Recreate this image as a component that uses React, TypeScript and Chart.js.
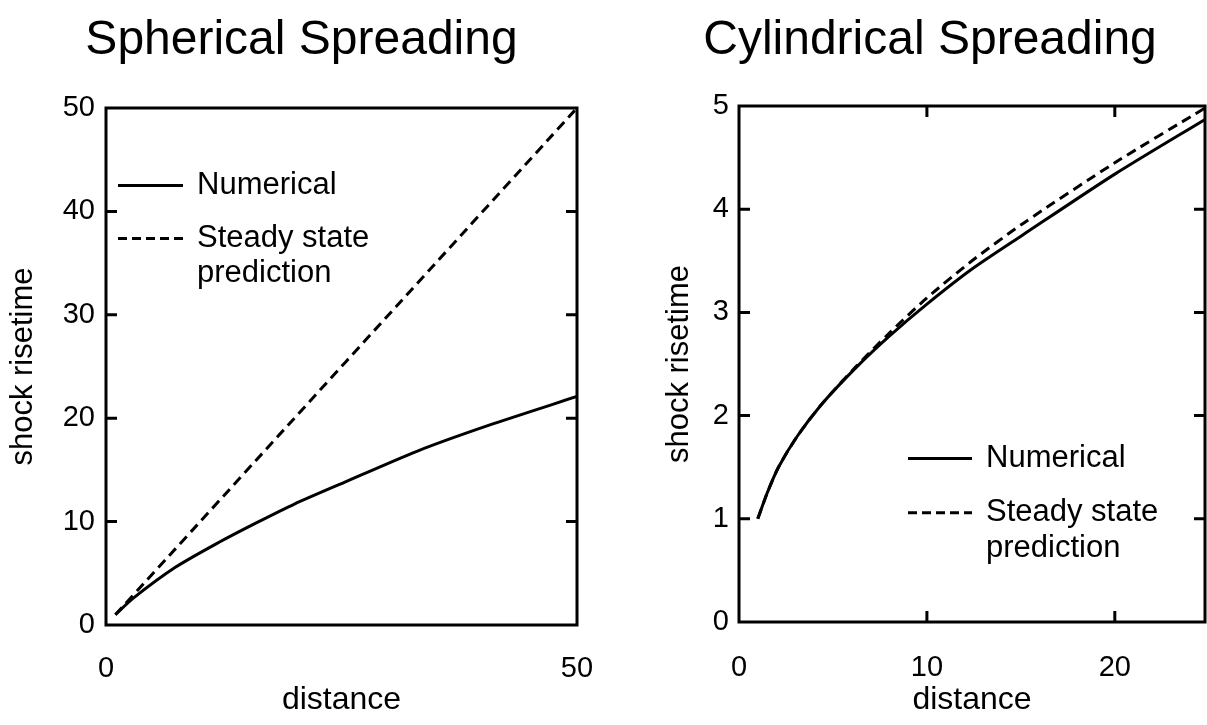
import React, { useEffect, useRef } from "react";
import { Chart, registerables } from "chart.js";

Chart.register(...registerables);

const FONT = '"Liberation Sans", Arial, Helvetica, sans-serif';

// ---- Data: Spherical spreading ----
const sphTitle = "Spherical Spreading";
const sphDistance = [1, 2.9, 7.4, 12, 16, 20, 25.3, 33, 40.6, 50];
const sphNumerical = [1, 2.6, 5.6, 8.0, 9.9, 11.7, 13.8, 16.8, 19.3, 22.1];
const sphSteadyDistance = [1, 50];
const sphSteady = [1, 50];
const sphYTicks = [0, 10, 20, 30, 40, 50];
const sphXTicks = [0, 50];

// ---- Data: Cylindrical spreading ----
const cylTitle = "Cylindrical Spreading";
const cylDistance = [1, 1.5, 2.1, 3.1, 4.4, 6.2, 8, 10, 12.4, 15.1, 20, 24.8];
const cylNumerical = [1, 1.25, 1.5, 1.8, 2.11, 2.46, 2.77, 3.08, 3.42, 3.75, 4.34, 4.87];
const cylSteady = [1, 1.25, 1.5, 1.8, 2.11, 2.47, 2.8, 3.14, 3.5, 3.86, 4.45, 4.98];
const cylYTicks = [0, 1, 2, 3, 4, 5];
const cylXTicks = [0, 10, 20];

const seriesNames = ["Numerical", "Steady state prediction"];
const legendLines = [["Numerical"], ["Steady state", "prediction"]];
const xTitle = "distance";
const yTitle = "shock risetime";

const frameTicks = {
  id: "frameTicks",
  afterDatasetsDraw(chart: any) {
    const { ctx, chartArea: a } = chart;
    const xs = chart.scales.x;
    const ys = chart.scales.y;
    const L = 11;
    ctx.save();
    ctx.strokeStyle = "#000";
    ctx.lineWidth = 3;
    ctx.setLineDash([]);
    ctx.strokeRect(a.left, a.top, a.right - a.left, a.bottom - a.top);
    ctx.beginPath();
    for (const t of ys.ticks) {
      if (t.value <= ys.min || t.value >= ys.max) continue;
      const y = ys.getPixelForValue(t.value);
      ctx.moveTo(a.left, y);
      ctx.lineTo(a.left + L, y);
      ctx.moveTo(a.right, y);
      ctx.lineTo(a.right - L, y);
    }
    for (const t of xs.ticks) {
      if (t.value <= xs.min || t.value >= xs.max) continue;
      const x = xs.getPixelForValue(t.value);
      ctx.moveTo(x, a.bottom);
      ctx.lineTo(x, a.bottom - L);
      ctx.moveTo(x, a.top);
      ctx.lineTo(x, a.top + L);
    }
    ctx.stroke();
    ctx.restore();
  },
};

const insetLegend = {
  id: "insetLegend",
  afterDraw(chart: any, _args: any, o: any) {
    const ctx = chart.ctx;
    ctx.save();
    ctx.font = `31px ${FONT}`;
    ctx.fillStyle = "#000";
    ctx.textBaseline = "middle";
    ctx.textAlign = "left";
    chart.data.datasets.forEach((ds: any, i: number) => {
      const rowY = o.rows[i];
      ctx.beginPath();
      ctx.setLineDash(ds.borderDash ? o.dash : []);
      ctx.lineWidth = ds.borderWidth;
      ctx.strokeStyle = ds.borderColor;
      ctx.moveTo(o.lineX0, rowY);
      ctx.lineTo(o.lineX1, rowY);
      ctx.stroke();
      legendLines[i].forEach((t, j) => ctx.fillText(t, o.textX, rowY + j * o.lineGap));
    });
    ctx.restore();
  },
};

function pts(xs: number[], ys: number[]) {
  return xs.map((x, i) => ({ x, y: ys[i] }));
}

function buildConfig(p: any): any {
  return {
    type: "line",
    data: {
      datasets: [
        {
          label: seriesNames[0],
          data: pts(p.numX, p.num),
          borderColor: "#000",
          borderWidth: 3,
          pointRadius: 0,
          tension: 0.25,
          fill: false,
        },
        {
          label: seriesNames[1],
          data: pts(p.steadyX, p.steady),
          borderColor: "#000",
          borderWidth: 3,
          borderDash: [10, 6],
          pointRadius: 0,
          tension: 0.25,
          fill: false,
        },
      ],
    },
    options: {
      responsive: false,
      animation: false,
      devicePixelRatio: 1,
      layout: { padding: { left: p.layoutLeft, right: p.layoutRight, top: 0, bottom: 0 } },
      scales: {
        x: {
          type: "linear",
          min: 0,
          max: p.xMax,
          afterBuildTicks: (s: any) => {
            s.ticks = p.xTicks.map((v: number) => ({ value: v }));
          },
          ticks: {
            padding: p.xTickPad,
            font: { size: 29, family: FONT },
            color: "#000",
            maxRotation: 0,
            autoSkip: false,
          },
          grid: { display: false, drawTicks: false },
          border: { display: false },
          title: {
            display: true,
            text: xTitle,
            color: "#000",
            font: { size: 32, family: FONT },
            padding: { top: 0, bottom: p.xTitlePad },
          },
          afterFit: (s: any) => {
            s.height = p.xAxisHeight;
            s.paddingLeft = 0;
            s.paddingRight = 0;
          },
        },
        y: {
          type: "linear",
          min: 0,
          max: p.yMax,
          afterBuildTicks: (s: any) => {
            s.ticks = p.yTicks.map((v: number) => ({ value: v }));
          },
          ticks: {
            padding: p.yTickPad,
            font: { size: 29, family: FONT },
            color: "#000",
          },
          grid: { display: false, drawTicks: false },
          border: { display: false },
          title: {
            display: true,
            text: yTitle,
            color: "#000",
            font: { size: 31, family: FONT },
            padding: { top: p.yTitlePad, bottom: 0 },
          },
          afterFit: (s: any) => {
            s.width = p.yAxisWidth;
            s.paddingTop = 0;
            s.paddingBottom = 0;
          },
        },
      },
      plugins: {
        legend: { display: false },
        tooltip: { enabled: false },
        title: {
          display: true,
          text: p.title,
          color: "#000",
          font: { size: 48, family: FONT, weight: "normal" },
          padding: { top: p.titlePadTop, bottom: p.titlePadBottom },
        },
        insetLegend: p.legend,
      },
    },
    plugins: [frameTicks, insetLegend],
  };
}

function Panel({ left, width, config }: { left: number; width: number; config: any }) {
  const ref = useRef<HTMLCanvasElement>(null);
  useEffect(() => {
    const chart = new Chart(ref.current as HTMLCanvasElement, config);
    return () => chart.destroy();
  }, []);
  return (
    <canvas
      ref={ref}
      width={width}
      height={725}
      style={{ position: "absolute", left, top: 0, width, height: 725, display: "block" }}
    />
  );
}

export default function App() {
  const sphConfig = buildConfig({
    title: sphTitle,
    numX: sphDistance,
    num: sphNumerical,
    steadyX: sphSteadyDistance,
    steady: sphSteady,
    xMax: 50,
    yMax: 50,
    xTicks: sphXTicks,
    yTicks: sphYTicks,
    layoutLeft: 26,
    layoutRight: 26,
    yAxisWidth: 80,
    xAxisHeight: 100,
    xTickPad: 27,
    yTickPad: 11,
    xTitlePad: 6,
    yTitlePad: -21.6,
    titlePadTop: 12,
    titlePadBottom: 38.4,
    legend: { lineX0: 118, lineX1: 183, textX: 197, rows: [185.6, 238.5], lineGap: 35, dash: [9, 5] },
  });
  const cylConfig = buildConfig({
    title: cylTitle,
    numX: cylDistance,
    num: cylNumerical,
    steadyX: cylDistance,
    steady: cylSteady,
    xMax: 24.8,
    yMax: 5,
    xTicks: cylXTicks,
    yTicks: cylYTicks,
    layoutLeft: 0,
    layoutRight: 2,
    yAxisWidth: 84,
    xAxisHeight: 103,
    xTickPad: 29,
    yTickPad: 10,
    xTitlePad: 6,
    yTitlePad: 6,
    titlePadTop: 12,
    titlePadBottom: 36.4,
    legend: { lineX0: 253, lineX1: 317, textX: 331, rows: [458.5, 512.7], lineGap: 36, dash: [9, 5] },
  });
  return (
    <div
      style={{
        position: "fixed",
        left: 0,
        top: 0,
        width: 1207,
        height: 725,
        background: "#fff",
        overflow: "hidden",
      }}
    >
      <Panel left={0} width={603} config={sphConfig} />
      <Panel left={655} width={552} config={cylConfig} />
    </div>
  );
}
